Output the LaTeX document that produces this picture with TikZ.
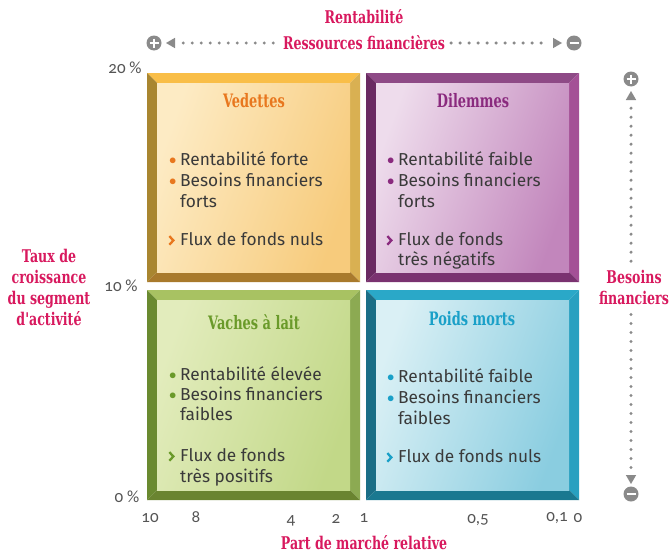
\documentclass[tikz,border=0pt]{standalone}
\usepackage{fontspec}
\setmainfont{Fira Sans}
\newfontfamily\titfont[FakeStretch=0.70]{DejaVu Serif}
\newfontfamily\axfont[FakeStretch=0.72]{DejaVu Serif}
\newfontfamily\numfont[Numbers=OldStyle]{Carlito}
\usetikzlibrary{shapes.geometric,calc}
\definecolor{crim}{HTML}{D8195E}
\definecolor{txt}{HTML}{3A3A3A}
\definecolor{tick}{HTML}{555555}
\definecolor{axg}{HTML}{8A8A8A}
% Vedettes
\definecolor{vedT}{HTML}{F9BE48}\definecolor{vedL}{HTML}{A98630}
\definecolor{vedR}{HTML}{D9B052}\definecolor{vedB}{HTML}{A97A2C}
\definecolor{vedA}{HTML}{FDEBC4}\definecolor{vedZ}{HTML}{F7CB7C}
\definecolor{vedC}{HTML}{E8771E}
% Dilemmes
\definecolor{dilT}{HTML}{8E4A86}\definecolor{dilL}{HTML}{6A2A62}
\definecolor{dilR}{HTML}{A45096}\definecolor{dilB}{HTML}{7A3270}
\definecolor{dilA}{HTML}{EEDCEC}\definecolor{dilZ}{HTML}{C286BC}
\definecolor{dilC}{HTML}{8A2A7E}
% Vaches
\definecolor{vacT}{HTML}{A8C262}\definecolor{vacL}{HTML}{6A8A30}
\definecolor{vacR}{HTML}{8CAA52}\definecolor{vacB}{HTML}{6A8430}
\definecolor{vacA}{HTML}{E2ECBC}\definecolor{vacZ}{HTML}{C2D888}
\definecolor{vacC}{HTML}{6A9A2A}
% Poids morts
\definecolor{poiT}{HTML}{2AA8C8}\definecolor{poiL}{HTML}{1A6E86}
\definecolor{poiR}{HTML}{28A0C0}\definecolor{poiB}{HTML}{1A7890}
\definecolor{poiA}{HTML}{DAF0F5}\definecolor{poiZ}{HTML}{8ACDE0}
\definecolor{poiC}{HTML}{1AA0C8}
\newcommand\bevbox[5]{%
  \fill[#1T] (#2,#3) -- (#4,#3) -- (#4-10,#3+10) -- (#2+10,#3+10) -- cycle;
  \fill[#1L] (#2,#3) -- (#2+10,#3+10) -- (#2+10,#5-10) -- (#2,#5) -- cycle;
  \fill[#1R] (#4,#3) -- (#4,#5) -- (#4-10,#5-10) -- (#4-10,#3+10) -- cycle;
  \fill[#1B] (#2,#5) -- (#2+10,#5-10) -- (#4-10,#5-10) -- (#4,#5) -- cycle;
  \shade[left color=#1A, right color=#1Z, shading angle=70] (#2+10,#3+10) rectangle (#4-10,#5-10);
}
\newcommand\pmcirc[3]{% name, center, sign
  \node[circle, fill=axg, minimum size=15pt, inner sep=0pt] (#1) at #2 {};
  \draw[white, line width=2.5pt] ($(#1)+(-4.5,0)$) -- ($(#1)+(4.5,0)$);
  \ifx#3+\draw[white, line width=2.5pt] ($(#1)+(0,-4.5)$) -- ($(#1)+(0,4.5)$);\fi
}
\tikzset{
  body/.style={anchor=west, inner sep=0pt, font=\fontsize{17.3}{21}\selectfont, text=txt},
  title/.style={inner sep=0pt, font=\titfont\bfseries\fontsize{18.5}{20}\selectfont},
  axl/.style={inner sep=0pt, text=crim, font=\axfont\bfseries\fontsize{17.5}{21}\selectfont, align=center},
  tick/.style={inner sep=0pt, text=tick, font=\numfont\fontsize{17}{18}\selectfont},
  dots/.style={axg, line width=3.4pt, line cap=round, dash pattern=on 0pt off 9pt},
  tri/.style={isosceles triangle, fill=axg, inner sep=0pt, minimum width=10pt, minimum height=9pt, isosceles triangle apex angle=60}
}
\newcommand\bul[1]{\makebox[11pt][l]{\textcolor{#1}{\raisebox{0.15ex}{\scalebox{0.85}{$\bullet$}}}}}
\newcommand\chev[1]{\makebox[12pt][l]{\tikz[baseline=0pt,x=1pt,y=1pt]\draw[#1, line width=2.3pt, line join=miter] (0.5,9) -- (4.5,4.7) -- (0.5,0.4);}}
\begin{document}
\begin{tikzpicture}[x=1pt,y=-1pt]
\useasboundingbox (0,0) rectangle (671,554);
\fill[white] (0,0) rectangle (671,554);
% boxes
\bevbox{ved}{147}{73}{360}{282}
\bevbox{dil}{366}{73}{579}{282}
\bevbox{vac}{147}{290}{360}{500}
\bevbox{poi}{366}{290}{579}{500}
% Vedettes
\node[title, text=vedC] (tv) at (254,101) {Vedettes};
\node[body] (v1) at (169,159) {\bul{vedC}Rentabilité forte};
\node[body] (v2) at (169,180) {\bul{vedC}Besoins financiers};
\node[body] (v3) at (180,201) {forts};
\node[body] (v4) at (168,239) {\chev{vedC}Flux de fonds nuls};
% Dilemmes
\node[title, text=dilC] (td) at (473,101) {Dilemmes};
\node[body] (d1) at (387,159) {\bul{dilC}Rentabilité faible};
\node[body] (d2) at (387,180) {\bul{dilC}Besoins financiers};
\node[body] (d3) at (398,201) {forts};
\node[body] (d4) at (386,239) {\chev{dilC}Flux de fonds};
\node[body] (d5) at (398,260) {très négatifs};
% Vaches
\node[title, text=vacC] (tc) at (254,322) {Vaches à lait};
\node[body] (c1) at (169,374) {\bul{vacC}Rentabilité élevée};
\node[body] (c2) at (169,394) {\bul{vacC}Besoins financiers};
\node[body] (c3) at (180,414) {faibles};
\node[body] (c4) at (168,455) {\chev{vacC}Flux de fonds};
\node[body] (c5) at (180,477) {très positifs};
% Poids morts
\node[title, text=poiC] (tp) at (472,319) {Poids morts};
\node[body] (p1) at (387,376) {\bul{poiC}Rentabilité faible};
\node[body] (p2) at (387,397) {\bul{poiC}Besoins financiers};
\node[body] (p3) at (398,418) {faibles};
\node[body] (p4) at (386,456) {\chev{poiC}Flux de fonds nuls};
% top axis
\node[axl] (rt) at (364,17) {Rentabilité};
\node[axl] (rf) at (364,43) {Ressources financières};
\pmcirc{pl}{(154,43)}{+}
\pmcirc{mi}{(574,43)}{-}
\node[tri, shape border rotate=180] (al) at (172,43) {};
\node[tri] (ar) at (556,43) {};
\draw[dots] ($(al.east)+(8,0)$) -- ($(rf.west)+(-4,0)$);
\draw[dots] ($(rf.east)+(6,0)$) -- ($(ar.west)+(-6,0)$);
% right axis
\node[axl] (bf) at (634,287) {Besoins\\financiers};
\pmcirc{pr}{(631,79)}{+}
\pmcirc{mr}{(631,494)}{-}
\node[tri, shape border rotate=90] (au) at (631,97) {};
\node[tri, shape border rotate=-90] (ad) at (631,478) {};
\draw[dots] ($(au.south)+(0,8)$) -- ($(bf.north)+(-3,-6)$);
\draw[dots] ($(bf.south)+(-3,10)$) -- ($(ad.north)+(0,-6)$);
% left label
\node[axl] (tx) at (49,287) {Taux de\\croissance\\du segment\\d'activité};
% y ticks
\node[tick] (y20) at (125,68) {20 \%};
\node[tick] (y10) at (121,286) {10 \%};
\node[tick] (y0) at (127,497) {0 \%};
% x ticks
\node[tick] (x10) at (150,518) {10};
\node[tick] (x8) at (196,517) {8};
\node[tick] (x4) at (291,521) {4};
\node[tick] (x2) at (336,519) {2};
\node[tick] (x1) at (364,518) {1};
\node[tick] (x05) at (478,520) {0,5};
\node[tick] (x01) at (557,518) {0,1};
\node[tick] (x0) at (578,518) {0};
\node[axl] (pm) at (364,543) {Part de marché relative};
\end{tikzpicture}
\end{document}
